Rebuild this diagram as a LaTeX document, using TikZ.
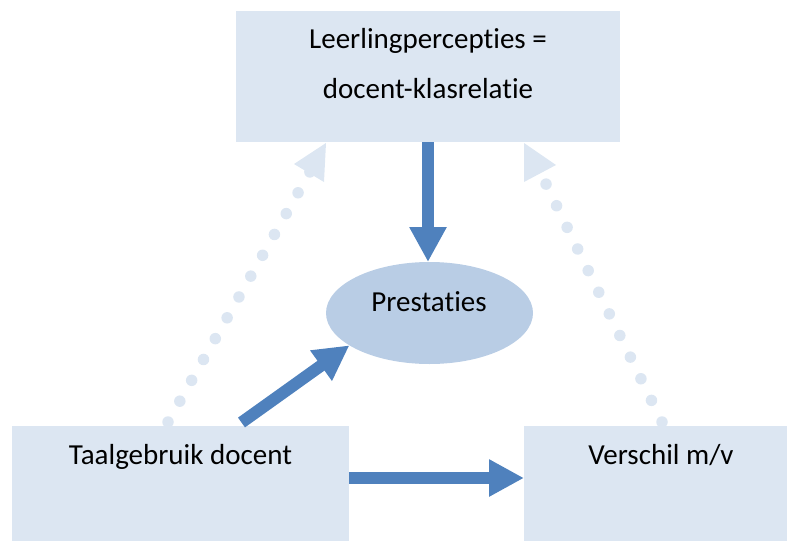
\documentclass[tikz,border=0pt]{standalone}
\usepackage{fontspec}
\setmainfont{Carlito}[Ligatures={NoCommon},Contextuals={NoAlternate}]
\usetikzlibrary{arrows.meta,shapes.geometric}
\definecolor{boxfill}{HTML}{DCE6F2}
\definecolor{ellfill}{HTML}{B9CDE5}
\definecolor{arrowblue}{HTML}{4F81BD}
\tikzset{
  box/.style={rectangle, fill=boxfill, draw=none, inner sep=0pt, outer sep=0pt},
  ell/.style={ellipse, fill=ellfill, draw=none, inner sep=0pt, outer sep=0pt,
    minimum width=207pt, minimum height=102pt},
  lbl/.style={anchor=base, inner sep=0pt, font=\fontsize{29}{35}\selectfont},
  bigarrow/.style={draw=arrowblue, line width=12pt,
    -{Triangle[length=35pt,width=35pt]}},
  dotline/.style={draw=boxfill, line width=11.5pt, line cap=round,
    dash pattern=on 0pt off 23.96pt},
  dotline2/.style={draw=boxfill, line width=11.5pt, line cap=round,
    dash pattern=on 0pt off 24.06pt},
  headfill/.style={fill=boxfill, draw=none}
}
\begin{document}
\begin{tikzpicture}[x=1pt,y=-1pt]
\useasboundingbox (0,0) rectangle (787,541);
% nodes
\node[box, minimum width=384pt, minimum height=131pt] (top) at (428,76.5) {};
\node[box, minimum width=337pt, minimum height=115pt] (lang) at (180.5,483.5) {};
\node[box, minimum width=263pt, minimum height=115pt] (gender) at (655.5,483.5) {};
\node[ell] (perf) at (429.5,313) {};
% texts
\node[lbl] (t1) at (428,48) {Leerlingpercepties =};
\node[lbl] (t2) at (428,98) {docent-klasrelatie};
\node[lbl] (t3) at (429,311) {Prestaties};
\node[lbl] (t4) at (180.5,464) {Taalgebruik docent};
\node[lbl] (t5) at (661,464) {Verschil m/v};
% dotted connectors
\draw[dotline] ([xshift=-12.5pt,yshift=4pt]lang.north) -- (311,170);
\fill[headfill] (326,143) -- (294,164) -- (324,182) -- cycle;
\draw[dotline2] ([xshift=6.5pt,yshift=4pt]gender.north) -- (545.5,183);
\fill[headfill] (524,143) -- (524,182) -- (556,165) -- cycle;
% thick arrows
\draw[bigarrow] (top.south) -- (top.south |- perf.north);
\draw[bigarrow] ([xshift=61pt,yshift=3.5pt]lang.north) -- (perf.202);
\draw[bigarrow] ([yshift=5.5pt]lang.east) -- ([yshift=5.5pt]gender.west);
\end{tikzpicture}
\end{document}
